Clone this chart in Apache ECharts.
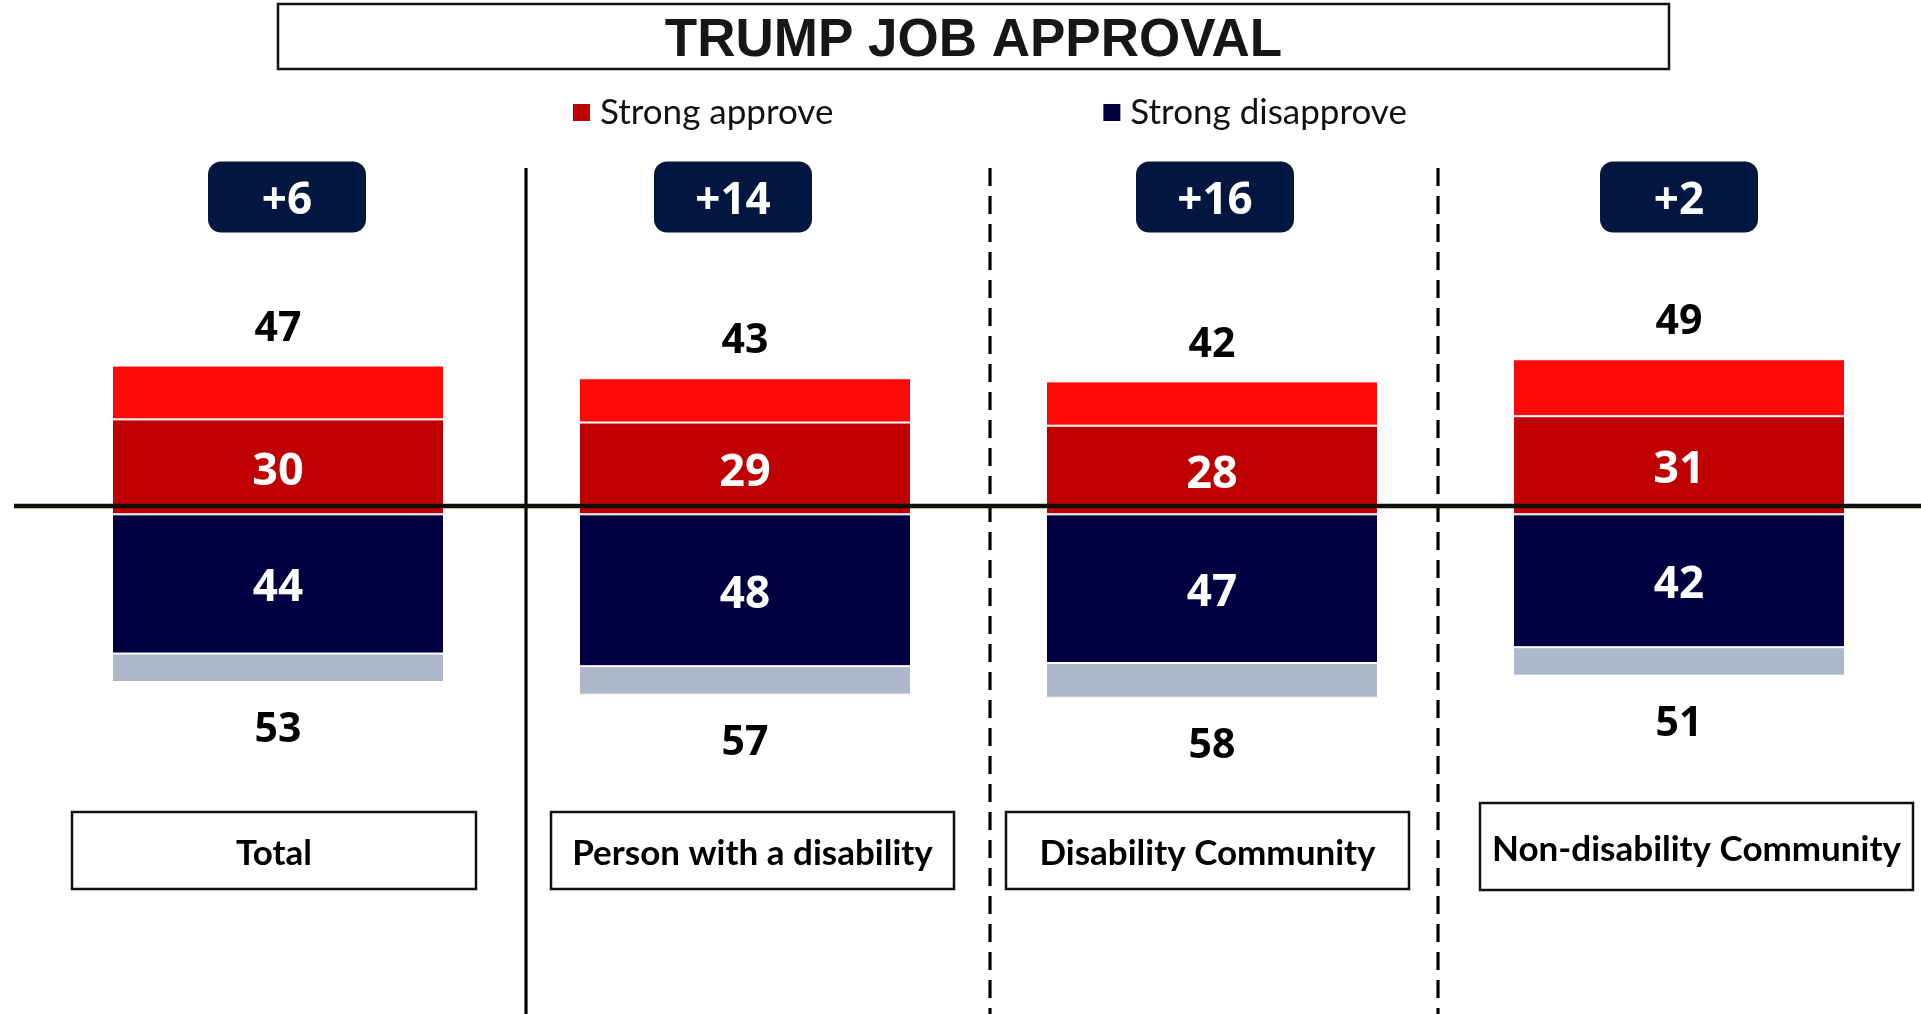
<!DOCTYPE html>
<html>
<head>
<meta charset="utf-8">
<script src="https://cdn.jsdelivr.net/npm/echarts@6/dist/echarts.min.js"></script>
<style>
  html, body { margin: 0; padding: 0; background: #ffffff; }
  #chart { width: 1921px; height: 1014px; }
</style>
</head>
<body>
<div id="chart"></div>
<script>
// Survey groups and their approval / disapproval shares (%)
const categories = ['Total', 'Person with a disability', 'Disability Community', 'Non-disability Community'];
const strongApprove = [30, 29, 28, 31];
const totalApprove = [47, 43, 42, 49];
const strongDisapprove = [44, 48, 47, 42];
const totalDisapprove = [53, 57, 58, 51];

// Remaining part of each total beyond the "strong" share
const somewhatApprove = totalApprove.map((t, i) => t - strongApprove[i]);
const somewhatDisapprove = totalDisapprove.map((t, i) => t - strongDisapprove[i]);
// Net disapproval shown in the badges
const netDisapprove = totalDisapprove.map((d, i) => d - totalApprove[i]);

// Small horizontal nudges (px) for the badges and the group name boxes
const badgeShift = [9, -12, 3, 0];
const boxShift = [-4, 7.5, -4.5, 17.5];
const boxWidth = [404, 403, 403, 433];
const boxTop = [812, 812, 812, 803];
const boxHeight = [77, 77, 77, 87];

const NUM_FONT = '"Open Sans", sans-serif';
const LABEL_FONT = 'Lato, "Open Sans", sans-serif';

const chart = echarts.init(document.getElementById('chart'));

chart.setOption({
  animation: false,
  backgroundColor: '#ffffff',
  grid: { left: 44.5, right: 8.5, top: 166.2, bottom: 151.6 },
  legend: {
    data: ['Strong approve', 'Strong disapprove'],
    left: 566,
    top: 90,
    icon: 'rect',
    itemWidth: 19,
    itemHeight: 19,
    itemGap: 268,
    selectedMode: false,
    textStyle: { fontFamily: LABEL_FONT, fontSize: 35, color: '#111111', padding: [0, 0, 0, 4] }
  },
  xAxis: {
    type: 'category',
    data: categories,
    axisLine: { show: false },
    axisTick: { show: false },
    axisLabel: { show: false },
    splitLine: { show: false }
  },
  yAxis: {
    type: 'value',
    min: -110,
    max: 110,
    show: false
  },
  series: [
    {
      name: 'Strong approve',
      type: 'bar',
      stack: 'job',
      barWidth: 332,
      data: strongApprove,
      itemStyle: { color: '#C00000', borderColor: '#ffffff', borderWidth: 1 },
      label: {
        show: true, position: 'inside', offset: [0, 5], color: '#ffffff',
        fontFamily: NUM_FONT, fontWeight: 'bold', fontSize: 45
      }
    },
    {
      name: 'Somewhat approve',
      type: 'bar',
      stack: 'job',
      data: somewhatApprove,
      itemStyle: { color: '#FF0808', borderColor: '#ffffff', borderWidth: 1 },
      label: {
        show: true, position: 'top', distance: 16, color: '#000000',
        fontFamily: NUM_FONT, fontWeight: 'bold', fontSize: 41,
        formatter: p => String(totalApprove[p.dataIndex])
      }
    },
    {
      name: 'Strong disapprove',
      type: 'bar',
      stack: 'job',
      data: strongDisapprove.map(v => -v),
      itemStyle: { color: '#010040', borderColor: '#ffffff', borderWidth: 1 },
      label: {
        show: true, position: 'inside', offset: [0, 5], color: '#ffffff',
        fontFamily: NUM_FONT, fontWeight: 'bold', fontSize: 44,
        formatter: p => String(strongDisapprove[p.dataIndex])
      }
    },
    {
      name: 'Somewhat disapprove',
      type: 'bar',
      stack: 'job',
      data: somewhatDisapprove.map(v => -v),
      itemStyle: { color: '#ADB9CA', borderColor: '#ffffff', borderWidth: 1 },
      label: {
        show: true, position: 'bottom', distance: 28, color: '#000000',
        fontFamily: NUM_FONT, fontWeight: 'bold', fontSize: 41,
        formatter: p => String(totalDisapprove[p.dataIndex])
      }
    },
    {
      // net disapproval badges above each group
      name: 'Net',
      type: 'custom',
      silent: true,
      z: 5,
      data: netDisapprove.map((v, i) => [i, v]),
      renderItem: (params, api) => {
        const i = params.dataIndex;
        const cx = api.coord([api.value(0), 0])[0] + badgeShift[i];
        const v = api.value(1);
        return {
          type: 'group',
          children: [
            { type: 'rect', shape: { x: cx - 79, y: 161.5, width: 158, height: 71, r: 13 },
              style: { fill: '#021740' } },
            { type: 'text', style: {
                x: cx, y: 201, text: (v > 0 ? '+' : '') + v,
                fill: '#ffffff', font: 'bold 44px ' + NUM_FONT,
                align: 'center', verticalAlign: 'middle' } }
          ]
        };
      }
    },
    {
      // group name boxes under the bars
      name: 'Groups',
      type: 'custom',
      silent: true,
      z: 5,
      data: categories.map((c, i) => [i, 0]),
      renderItem: (params, api) => {
        const i = params.dataIndex;
        const cx = api.coord([api.value(0), 0])[0] + boxShift[i];
        return {
          type: 'group',
          children: [
            { type: 'rect',
              shape: { x: cx - boxWidth[i] / 2, y: boxTop[i], width: boxWidth[i], height: boxHeight[i] },
              style: { fill: '#ffffff', stroke: '#111111', lineWidth: 2.5 } },
            { type: 'text', style: {
                x: cx, y: boxTop[i] + boxHeight[i] / 2 + 3.5, text: categories[i],
                fill: '#000000', font: 'bold 35px ' + LABEL_FONT,
                align: 'center', verticalAlign: 'middle' } }
          ]
        };
      }
    }
  ],
  graphic: [
    // title box
    { type: 'rect', z: 10, shape: { x: 278, y: 4, width: 1391, height: 65 },
      style: { fill: '#ffffff', stroke: '#111111', lineWidth: 2.5 } },
    { type: 'text', z: 11, style: {
        x: 973.5, y: 41, text: 'TRUMP JOB APPROVAL', fill: '#161616',
        font: 'bold 53px "Liberation Sans", Arial, sans-serif',
        align: 'center', verticalAlign: 'middle' } },
    // group separators
    { type: 'line', z: 10, shape: { x1: 526, y1: 168, x2: 526, y2: 1014 },
      style: { stroke: '#000000', lineWidth: 3.2 } },
    { type: 'line', z: 10, shape: { x1: 990, y1: 168, x2: 990, y2: 1014 },
      style: { stroke: '#000000', lineWidth: 3.2, lineDash: [18, 10] } },
    { type: 'line', z: 10, shape: { x1: 1438, y1: 168, x2: 1438, y2: 1014 },
      style: { stroke: '#000000', lineWidth: 3.2, lineDash: [18, 10] } },
    // horizontal divider between approve and disapprove
    { type: 'line', z: 20, shape: { x1: 14, y1: 506, x2: 1921, y2: 506 },
      style: { stroke: '#0F0F0A', lineWidth: 4.6 } }
  ]
});
</script>
</body>
</html>
